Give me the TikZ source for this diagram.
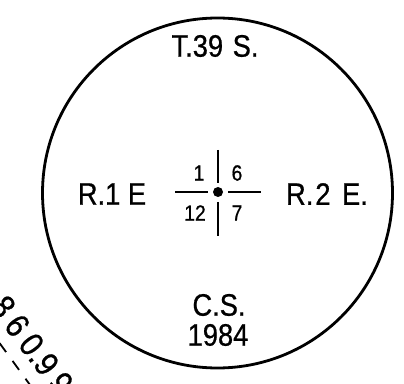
\documentclass[tikz,border=0pt]{standalone}
\usepackage{fontspec}
\setmainfont{Liberation Sans}[FakeBold=0.6]
\newfontfamily\plotfont{Liberation Sans}[FakeStretch=0.88,FakeBold=0.7]
\begin{document}
\begin{tikzpicture}[x=1pt,y=1pt,
  lbl/.style={inner sep=0pt,font=\plotfont\fontsize{31}{33}\selectfont},
  small/.style={inner sep=0pt,font=\plotfont\fontsize{22}{24}\selectfont},
  ring/.style={line width=2.8pt},
  tick/.style={line width=2.6pt},
  hline/.style={line width=2.2pt}]
\useasboundingbox (0,0) rectangle (404,383);
\clip (0,0) rectangle (404,383);
\draw[ring] (217.5,190) circle (175);
% cross
\coordinate (c) at (218,191);
\coordinate (vt) at (218,233);
\coordinate (vtb) at (218,200);
\coordinate (vbt) at (218,181);
\coordinate (vb) at (218,147);
\coordinate (hl) at (175,191);
\coordinate (hle) at (208,191);
\coordinate (hr) at (261,191);
\coordinate (hrs) at (228,191);
\draw[tick] (vt) -- (vtb);
\draw[tick] (vbt) -- (vb);
\draw[hline] (hl) -- (hle);
\draw[hline] (hrs) -- (hr);
\fill (c) circle (5);
% labels
\node[lbl] (t) at (215,337) {T.39\kern2pt\ S.};
\node[lbl] (r1) at (112,189) {R.1 E};
\node[lbl] (r2) at (327,189) {R.\kern2pt 2\kern4pt\ E.};
\node[small] (n1) at (199,210) {1};
\node[small] (n6) at (237,210) {6};
\node[small] (n12) at (195,170) {12};
\node[small] (n7) at (237,170) {7};
\node[lbl] (cs) at (219,78) {C.S.};
\node[lbl] (yr) at (218,48) {1984};
% rotated partial text at lower left
\node[inner sep=0pt,rotate=-53,font=\plotfont\fontsize{34}{36}\selectfont] (dist) at (32,38)
  {8\kern7pt 6\kern7pt 0.9\kern7pt 9};
\coordinate (d1) at (-26.3,75.4);
\coordinate (d2) at (38.3,-13.3);
\draw[line width=1.8pt,dash pattern=on 11pt off 11pt] (d1) -- (d2);
\end{tikzpicture}
\end{document}
